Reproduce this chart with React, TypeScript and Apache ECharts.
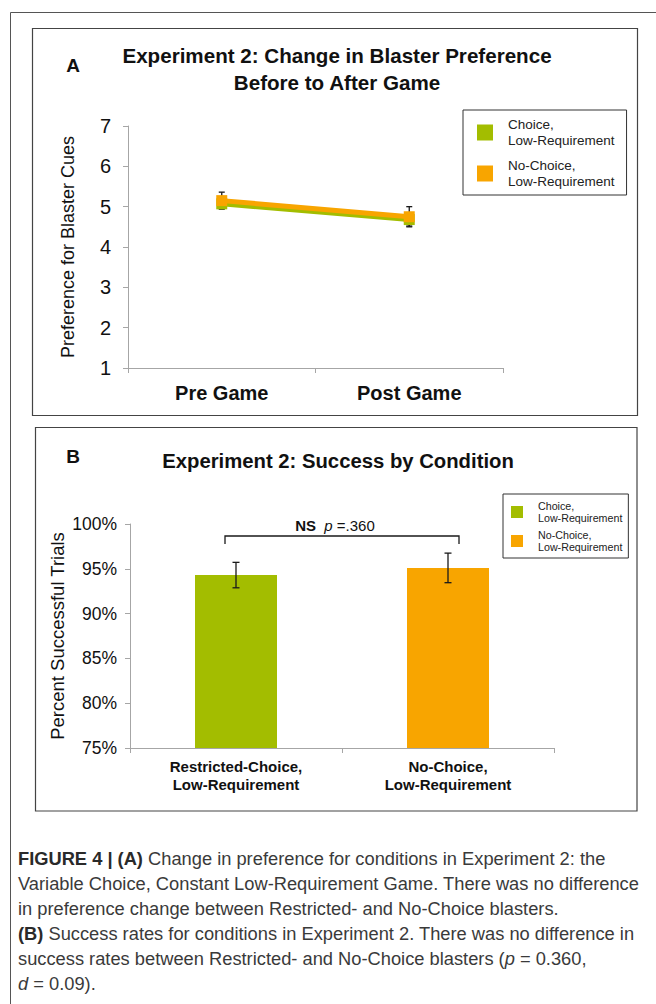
import React, { useEffect, useRef } from "react";
import * as echarts from "echarts";

// Condition names (shared by both panels' legends)
const conditionNames = ["Choice,\nLow-Requirement", "No-Choice,\nLow-Requirement"];
const conditionColors = ["#a3bd00", "#f8a500"];

// Panel A: preference for blaster cues before / after the game
const phaseLabels = ["Pre Game", "Post Game"];
const prefChoice = [5.07, 4.68];
const prefChoiceErr = [0.12, 0.16];
const prefNoChoice = [5.15, 4.75];
const prefNoChoiceErr = [0.21, 0.25];
const prefTicks = { min: 1, max: 7, interval: 1 };

// Panel B: percent successful trials by condition
const conditionLabels = ["Restricted-Choice,\nLow-Requirement", "No-Choice,\nLow-Requirement"];
const successRate = [94.3, 95.1];
const successErr = [1.42, 1.65];
const successTicks = { min: 75, max: 100, interval: 5 };
const bracketLevels = [98.66, 97.77];
const bracketLabel = "{b|NS}  {i|p} =.360";

const captionLines = [
  "{b|FIGURE 4 | (A)} Change in preference for conditions in Experiment 2: the",
  "Variable Choice, Constant Low-Requirement Game. There was no difference",
  "in preference change between Restricted- and No-Choice blasters.",
  "{b|(B)} Success rates for conditions in Experiment 2. There was no difference in",
  "success rates between Restricted- and No-Choice blasters ({i|p} = 0.360,",
  "{i|d} = 0.09).",
];

const FONT = '"Liberation Sans", Arial, Helvetica, sans-serif';
const AXIS_GRAY = "#a6a6a6";
const CAPTION_SIZE = 18.3;

function errorBarRenderer(capHalf: number) {
  return (params: any, api: any) => {
    const x = api.value(0);
    const lo = api.value(1);
    const hi = api.value(2);
    const top = api.coord([x, hi]);
    const bot = api.coord([x, lo]);
    const style = { stroke: "#1a1a1a", lineWidth: 1.3 };
    return {
      type: "group",
      children: [
        { type: "line", shape: { x1: top[0], y1: top[1], x2: bot[0], y2: bot[1] }, style },
        { type: "line", shape: { x1: top[0] - capHalf, y1: top[1], x2: top[0] + capHalf, y2: top[1] }, style },
        { type: "line", shape: { x1: bot[0] - capHalf, y1: bot[1], x2: bot[0] + capHalf, y2: bot[1] }, style },
      ],
    };
  };
}

function bracketRenderer(params: any, api: any) {
  const a = api.coord([api.value(0), api.value(2)]);
  const b = api.coord([api.value(1), api.value(2)]);
  const foot = api.coord([api.value(0), api.value(3)]);
  const xl = a[0] - 11;
  const xr = b[0] + 11;
  const style = { stroke: "#1a1a1a", lineWidth: 1.3, fill: "none" };
  return {
    type: "group",
    children: [
      {
        type: "polyline",
        shape: { points: [[xl, foot[1]], [xl, a[1]], [xr, a[1]], [xr, foot[1]]] },
        style,
      },
      {
        type: "text",
        style: {
          text: bracketLabel,
          x: (xl + xr) / 2 - 7,
          y: a[1] - 11,
          align: "center",
          verticalAlign: "middle",
          fontFamily: FONT,
          fontSize: 15,
          fill: "#111",
          rich: {
            b: { fontWeight: "bold", fontSize: 15, fontFamily: FONT, fill: "#111" },
            i: { fontStyle: "italic", fontSize: 15, fontFamily: FONT, fill: "#111" },
          },
        },
      },
    ],
  };
}

export default function App() {
  const ref = useRef<HTMLDivElement>(null);

  useEffect(() => {
    if (!ref.current) return;
    const chart = echarts.init(ref.current, null, { renderer: "svg" });

    const errA = (vals: number[], errs: number[]) =>
      vals.map((v, i) => [i, v - errs[i], v + errs[i]]);

    const option: any = {
      animation: false,
      backgroundColor: "#ffffff",
      textStyle: { fontFamily: FONT },
      grid: [
        { left: 128, top: 126, width: 375, height: 242 },
        { left: 130, top: 524, width: 424, height: 224 },
      ],
      legend: [
        {
          data: conditionNames,
          orient: "vertical",
          left: 463,
          top: 110,
          icon: "rect",
          itemWidth: 16,
          itemHeight: 16,
          itemGap: 8,
          padding: [6, 12, 5, 14],
          borderColor: "#333",
          borderWidth: 1,
          selectedMode: false,
          textStyle: { fontSize: 13.5, lineHeight: 16.5, color: "#222", padding: [0, 0, 0, 10], fontFamily: FONT },
        },
        {
          data: conditionNames,
          orient: "vertical",
          left: 503,
          top: 494,
          icon: "rect",
          itemWidth: 12,
          itemHeight: 12,
          itemGap: 5,
          padding: [6, 6, 5, 8],
          borderColor: "#333",
          borderWidth: 1,
          selectedMode: false,
          textStyle: { fontSize: 10.7, lineHeight: 12, color: "#222", padding: [0, 0, 0, 10], fontFamily: FONT },
        },
      ],
      xAxis: [
        {
          type: "category",
          gridIndex: 0,
          data: phaseLabels,
          axisLine: { lineStyle: { color: AXIS_GRAY, width: 1 } },
          axisTick: { show: true, length: 5, lineStyle: { color: AXIS_GRAY } },
          axisLabel: { fontSize: 20, fontWeight: "bold", color: "#111", margin: 15, fontFamily: FONT },
        },
        {
          type: "category",
          gridIndex: 1,
          data: conditionLabels,
          axisLine: { lineStyle: { color: AXIS_GRAY, width: 1 } },
          axisTick: { show: true, length: 5, lineStyle: { color: AXIS_GRAY } },
          axisLabel: { fontSize: 15, lineHeight: 18, fontWeight: "bold", color: "#111", margin: 9, fontFamily: FONT },
        },
      ],
      yAxis: [
        {
          type: "value",
          gridIndex: 0,
          ...prefTicks,
          name: "Preference for Blaster Cues",
          nameLocation: "middle",
          nameGap: 51,
          nameMoveOverlap: false,
          nameTextStyle: { fontSize: 18, color: "#111", fontFamily: FONT },
          axisLine: { show: true, lineStyle: { color: AXIS_GRAY, width: 1 } },
          axisTick: { show: true, length: 5, lineStyle: { color: AXIS_GRAY } },
          splitLine: { show: false },
          axisLabel: { fontSize: 20, color: "#111", margin: 17, fontFamily: FONT },
        },
        {
          type: "value",
          gridIndex: 1,
          ...successTicks,
          name: "Percent Successful Trials",
          nameLocation: "middle",
          nameGap: 63,
          nameMoveOverlap: false,
          nameTextStyle: { fontSize: 18.5, color: "#111", fontFamily: FONT },
          axisLine: { show: true, lineStyle: { color: AXIS_GRAY, width: 1 } },
          axisTick: { show: true, length: 5, lineStyle: { color: AXIS_GRAY } },
          splitLine: { show: false },
          axisLabel: { fontSize: 17.5, color: "#111", margin: 13, formatter: "{value}%", fontFamily: FONT },
        },
      ],
      series: [
        {
          type: "custom",
          name: "prefErrChoice",
          xAxisIndex: 0,
          yAxisIndex: 0,
          renderItem: errorBarRenderer(3),
          data: errA(prefChoice, prefChoiceErr),
          z: 1,
          silent: true,
        },
        {
          type: "custom",
          name: "prefErrNoChoice",
          xAxisIndex: 0,
          yAxisIndex: 0,
          renderItem: errorBarRenderer(3),
          data: errA(prefNoChoice, prefNoChoiceErr),
          z: 1,
          silent: true,
        },
        {
          type: "line",
          name: conditionNames[0],
          xAxisIndex: 0,
          yAxisIndex: 0,
          data: prefChoice,
          symbol: "rect",
          symbolSize: 11,
          lineStyle: { width: 5, color: conditionColors[0] },
          itemStyle: { color: conditionColors[0] },
          z: 3,
        },
        {
          type: "line",
          name: conditionNames[1],
          xAxisIndex: 0,
          yAxisIndex: 0,
          data: prefNoChoice,
          symbol: "rect",
          symbolSize: 11,
          lineStyle: { width: 5, color: conditionColors[1] },
          itemStyle: { color: conditionColors[1] },
          z: 4,
        },
        {
          type: "bar",
          name: conditionNames[0],
          xAxisIndex: 1,
          yAxisIndex: 1,
          data: [successRate[0], "-"],
          barWidth: 82,
          barGap: "-100%",
          itemStyle: { color: conditionColors[0] },
          z: 2,
        },
        {
          type: "bar",
          name: conditionNames[1],
          xAxisIndex: 1,
          yAxisIndex: 1,
          data: ["-", successRate[1]],
          barWidth: 82,
          barGap: "-100%",
          itemStyle: { color: conditionColors[1] },
          z: 2,
        },
        {
          type: "custom",
          name: "successErr",
          xAxisIndex: 1,
          yAxisIndex: 1,
          renderItem: errorBarRenderer(3.5),
          data: successRate.map((v, i) => [i, v - successErr[i], v + successErr[i]]),
          z: 5,
          silent: true,
        },
        {
          type: "custom",
          name: "significance",
          xAxisIndex: 1,
          yAxisIndex: 1,
          renderItem: bracketRenderer,
          data: [[0, 1, bracketLevels[0], bracketLevels[1]]],
          encode: { x: [0, 1], y: [2, 3] },
          z: 5,
          silent: true,
        },
      ],
      graphic: [
        // outer figure frame
        { type: "rect", shape: { x: 10.5, y: 12.5, width: 700, height: 1100 }, style: { fill: "none", stroke: "#555", lineWidth: 1 }, z: 0 },
        // panel frames
        { type: "rect", shape: { x: 32.5, y: 28.5, width: 605, height: 387 }, style: { fill: "none", stroke: "#444", lineWidth: 1.2 }, z: 0 },
        { type: "rect", shape: { x: 35.5, y: 427.5, width: 601.5, height: 383.5 }, style: { fill: "none", stroke: "#444", lineWidth: 1.2 }, z: 0 },
        // panel letters and titles
        { type: "text", x: 73, y: 65, style: { text: "A", fontFamily: FONT, fontWeight: "bold", fontSize: 19, fill: "#111", align: "center", verticalAlign: "middle" } },
        { type: "text", x: 337, y: 55, style: { text: "Experiment 2: Change in Blaster Preference", fontFamily: FONT, fontWeight: "bold", fontSize: 20.6, fill: "#111", align: "center", verticalAlign: "middle" } },
        { type: "text", x: 337, y: 82, style: { text: "Before to After Game", fontFamily: FONT, fontWeight: "bold", fontSize: 20.6, fill: "#111", align: "center", verticalAlign: "middle" } },
        { type: "text", x: 73, y: 456, style: { text: "B", fontFamily: FONT, fontWeight: "bold", fontSize: 19, fill: "#111", align: "center", verticalAlign: "middle" } },
        { type: "text", x: 338, y: 461, style: { text: "Experiment 2: Success by Condition", fontFamily: FONT, fontWeight: "bold", fontSize: 20.3, fill: "#111", align: "center", verticalAlign: "middle" } },
        // caption
        ...captionLines.map((line, i) => ({
          type: "text",
          x: 18,
          y: 858 + i * 25,
          style: {
            text: line,
            fontFamily: FONT,
            fontSize: CAPTION_SIZE,
            fill: "#3a3a3a",
            align: "left",
            verticalAlign: "middle",
            rich: {
              b: { fontWeight: "bold", fontFamily: FONT, fontSize: CAPTION_SIZE, fill: "#2a2a2a" },
              i: { fontStyle: "italic", fontFamily: FONT, fontSize: CAPTION_SIZE, fill: "#3a3a3a" },
            },
          },
        })),
      ],
    };

    chart.setOption(option);
    return () => chart.dispose();
  }, []);

  return (
    <div
      ref={ref}
      style={{ position: "absolute", left: 0, top: 0, width: 656, height: 1004 }}
    />
  );
}
